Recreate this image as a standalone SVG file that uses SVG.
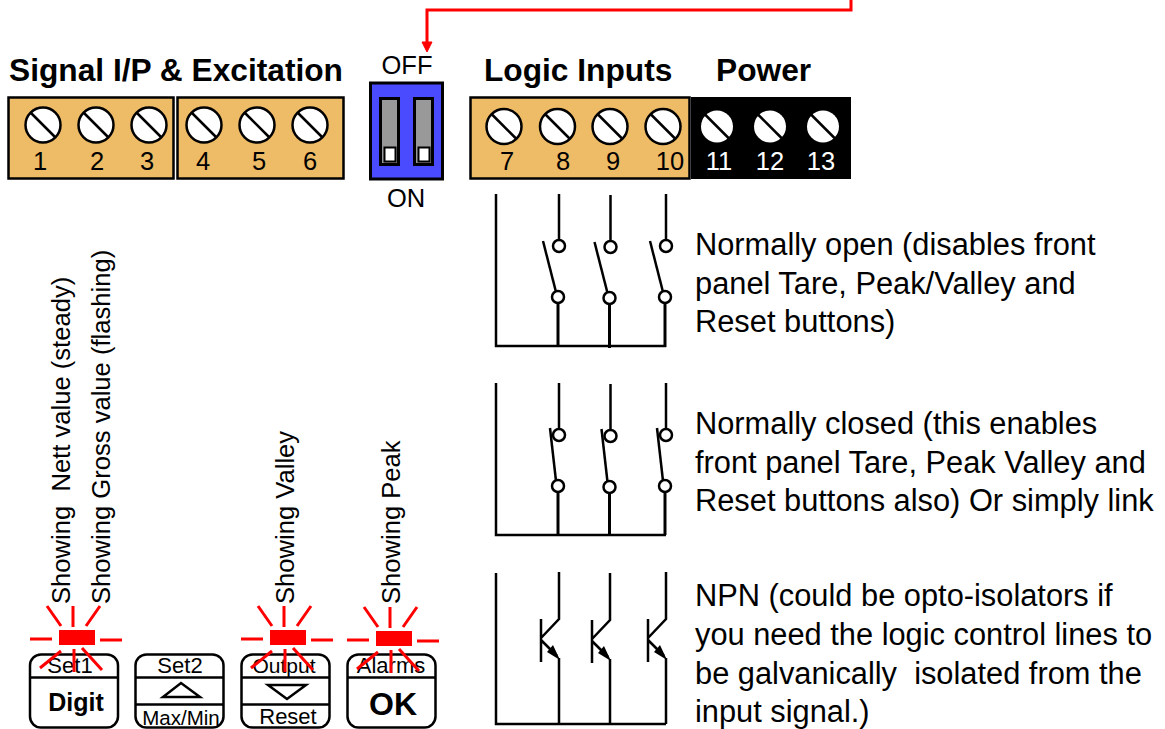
<svg xmlns="http://www.w3.org/2000/svg" xmlns:xlink="http://www.w3.org/1999/xlink" width="1165" height="729" viewBox="0 0 1165 729">
<style>
text{font-family:"Liberation Sans",Arial,sans-serif;fill:#000}
.h{font-size:31.7px;font-weight:bold}
.d{font-size:25.5px;text-anchor:middle}
.w{fill:#fff}
.t{font-size:30.8px}
.v{font-size:25.6px}
.tb{fill:#eebb66;stroke:#000;stroke-width:2.5}
.sc{fill:#fff;stroke:#000;stroke-width:2.5}
.sl{stroke:#000;stroke-width:2.5}
.w3{fill:none;stroke:#000;stroke-width:2.5}
.c{fill:#fff;stroke:#000;stroke-width:2.5}
.btn{fill:#fff;stroke:#000;stroke-width:2.5}
.ray{stroke:#f00;stroke-width:3;fill:none}
.bl{font-size:22px;text-anchor:middle}
.bb{font-weight:bold;text-anchor:middle}
</style>
<defs>
<g id="screw"><circle r="17.5" class="sc"/><line x1="-12" y1="-12" x2="12" y2="12" class="sl"/></g>
<g id="screwb"><circle r="16" fill="#fff"/><line x1="-12" y1="-12" x2="12" y2="12" class="sl"/></g>
<g id="led">
<rect x="0" y="0" width="36" height="15" fill="#f00"/>
<path class="ray" d="M2-4L-12-24M14-3V-24M27-4L41-24M-7 9H-29M41 10H63M2 21L-19 38M15 19V42M23 18L43 40"/>
</g>
<g id="open"><line x1="0" y1="0" x2="0" y2="46" class="w3"/><circle cx="0" cy="52" r="6" class="c"/><line x1="-16" y1="47" x2="-3" y2="98" class="w3"/><circle cx="-1" cy="103" r="6" class="c"/><line x1="-1" y1="109" x2="-1" y2="153" stroke="#000" stroke-width="3"/></g>
<g id="closed"><line x1="0" y1="0" x2="0" y2="46" class="w3"/><line x1="-9" y1="45" x2="-3" y2="98" class="w3"/><circle cx="0" cy="52" r="6" class="c"/><circle cx="-1" cy="103" r="6" class="c"/><line x1="-1" y1="109" x2="-1" y2="152" stroke="#000" stroke-width="3"/></g>
<g id="npn"><path class="w3" d="M0 0V47L-18 66M-18 47V90M-18 68L-2 84M0 86V152"/><path d="M1 88L-12 80L-6 73Z" fill="#000"/></g>
</defs>

<g id="connectors">
<path d="M851 0V10H427V44" fill="none" stroke="#f00" stroke-width="3"/>
<path d="M422 42H432L427 52Z" fill="#f00" stroke="#f00"/>
<g id="wiring-no">
<path class="w3" d="M496 194V346H666"/>
<use xlink:href="#open" href="#open" x="559" y="194"/>
<use xlink:href="#open" href="#open" x="610.500" y="195"/>
<use xlink:href="#open" href="#open" x="666" y="194"/>
</g>
<g id="wiring-nc">
<path class="w3" d="M496 383V535H666"/>
<use xlink:href="#closed" href="#closed" x="559" y="383"/>
<use xlink:href="#closed" href="#closed" x="610.500" y="384"/>
<use xlink:href="#closed" href="#closed" x="666" y="383"/>
</g>
<g id="wiring-npn">
<path class="w3" d="M496 573V724H666"/>
<use xlink:href="#npn" href="#npn" x="559" y="572"/>
<use xlink:href="#npn" href="#npn" x="610" y="573"/>
<use xlink:href="#npn" href="#npn" x="666" y="572"/>
</g>
</g>

<g id="label-signal"><text class="h" x="9" y="81">Signal I/P &amp; Excitation</text></g>
<g id="label-logic"><text class="h" x="484" y="81">Logic Inputs</text></g>
<g id="label-power"><text class="h" x="716" y="81">Power</text></g>

<g id="terminal-1-3">
<rect class="tb" x="8.500" y="97.500" width="165" height="81"/>
<use xlink:href="#screw" href="#screw" x="43" y="125"/><use xlink:href="#screw" href="#screw" x="96" y="125"/><use xlink:href="#screw" href="#screw" x="149" y="125"/>
<text class="d" x="40" y="170">1</text><text class="d" x="97" y="170">2</text><text class="d" x="147" y="170">3</text>
</g>
<g id="terminal-4-6">
<rect class="tb" x="177.500" y="97.500" width="166" height="81"/>
<use xlink:href="#screw" href="#screw" x="204" y="125"/><use xlink:href="#screw" href="#screw" x="257" y="125"/><use xlink:href="#screw" href="#screw" x="310" y="125"/>
<text class="d" x="203" y="170">4</text><text class="d" x="259" y="170">5</text><text class="d" x="310" y="170">6</text>
</g>

<g id="dip-switch">
<text class="d" x="407" y="74">OFF</text>
<rect x="370.500" y="83" width="72" height="96" fill="#4a4aff" stroke="#000" stroke-width="3"/>
<rect x="380.500" y="98.500" width="18" height="66" fill="#999" stroke="#000" stroke-width="3"/>
<rect x="414.500" y="98.500" width="18" height="66" fill="#999" stroke="#000" stroke-width="3"/>
<rect x="384.500" y="147.500" width="11" height="14" fill="#fff" stroke="#000" stroke-width="2"/>
<rect x="418.500" y="147.500" width="11" height="14" fill="#fff" stroke="#000" stroke-width="2"/>
<text class="d" x="406" y="207">ON</text>
</g>

<g id="terminal-7-10">
<rect class="tb" x="470.500" y="97.500" width="219" height="81"/>
<use xlink:href="#screw" href="#screw" x="504" y="126.500"/><use xlink:href="#screw" href="#screw" x="557.500" y="126.500"/><use xlink:href="#screw" href="#screw" x="610" y="126.500"/><use xlink:href="#screw" href="#screw" x="663" y="126.500"/>
<text class="d" x="507" y="170">7</text><text class="d" x="563" y="170">8</text><text class="d" x="613" y="170">9</text><text class="d" x="670" y="170">10</text>
</g>
<g id="terminal-11-13">
<rect x="691" y="97" width="160" height="82" fill="#000"/>
<use xlink:href="#screwb" href="#screwb" x="717" y="126.500"/><use xlink:href="#screwb" href="#screwb" x="770" y="126.500"/><use xlink:href="#screwb" href="#screwb" x="823" y="126.500"/>
<text class="d w" x="719" y="170">11</text><text class="d w" x="770" y="170">12</text><text class="d w" x="821" y="170">13</text>
</g>

<g id="text-no">
<text class="t" x="695" y="255">Normally open (disables front</text>
<text class="t" x="695" y="294">panel Tare, Peak/Valley and</text>
<text class="t" x="695" y="332">Reset buttons)</text>
</g>
<g id="text-nc">
<text class="t" x="695" y="434">Normally closed (this enables</text>
<text class="t" x="695" y="473">front panel Tare, Peak Valley and</text>
<text class="t" x="695" y="511">Reset buttons also) Or simply link</text>
</g>
<g id="text-npn">
<text class="t" x="695" y="606">NPN (could be opto-isolators if</text>
<text class="t" x="695" y="645">you need the logic control lines to</text>
<text class="t" x="695" y="684" xml:space="preserve">be galvanically  isolated from the</text>
<text class="t" x="695" y="722">input signal.)</text>
</g>

<g id="vlabels">
<text class="v" transform="translate(70 604) rotate(-90)" xml:space="preserve">Showing  Nett value (steady)</text>
<text class="v" transform="translate(110 604) rotate(-90)">Showing Gross value (flashing)</text>
<text class="v" transform="translate(294 604) rotate(-90)">Showing Valley</text>
<text class="v" transform="translate(400 604) rotate(-90)">Showing Peak</text>
</g>

<g id="button-digit">
<rect class="btn" x="30" y="654.500" width="88" height="73" rx="11"/>
<line x1="30" y1="677.500" x2="118" y2="677.500" class="sl"/>
<text class="bl" x="70" y="673">Set1</text>
<text class="bb" font-size="25" x="76" y="711">Digit</text>
</g>
<g id="button-set2">
<rect class="btn" x="135.500" y="654.500" width="88" height="73" rx="11"/>
<line x1="135" y1="677.500" x2="224" y2="677.500" class="sl"/>
<line x1="135" y1="704.500" x2="224" y2="704.500" class="sl"/>
<text class="bl" x="180" y="673">Set2</text>
<path d="M163 697L181 683L200 697Z" fill="none" stroke="#000" stroke-width="2.5"/>
<text class="bl" style="font-size:20.5px" x="181" y="725">Max/Min</text>
</g>
<g id="button-output">
<rect class="btn" x="241.500" y="654.500" width="88" height="73" rx="11"/>
<line x1="241" y1="677.500" x2="330" y2="677.500" class="sl"/>
<line x1="241" y1="704.500" x2="330" y2="704.500" class="sl"/>
<text class="bl" style="font-size:21px" x="284" y="673">Output</text>
<path d="M268 685H306L287 699Z" fill="none" stroke="#000" stroke-width="2.5"/>
<text class="bl" x="288" y="724">Reset</text>
</g>
<g id="button-ok">
<rect class="btn" x="347.500" y="654.500" width="88" height="73" rx="11"/>
<line x1="347" y1="677.500" x2="436" y2="677.500" class="sl"/>
<text class="bl" x="391" y="673">Alarms</text>
<text class="bb" font-size="32" x="393" y="715">OK</text>
</g>

<g id="led-1"><use xlink:href="#led" href="#led" x="59" y="630"/></g>
<g id="led-3"><use xlink:href="#led" href="#led" x="270" y="630"/></g>
<g id="led-4"><use xlink:href="#led" href="#led" x="376" y="631"/></g>
</svg>
